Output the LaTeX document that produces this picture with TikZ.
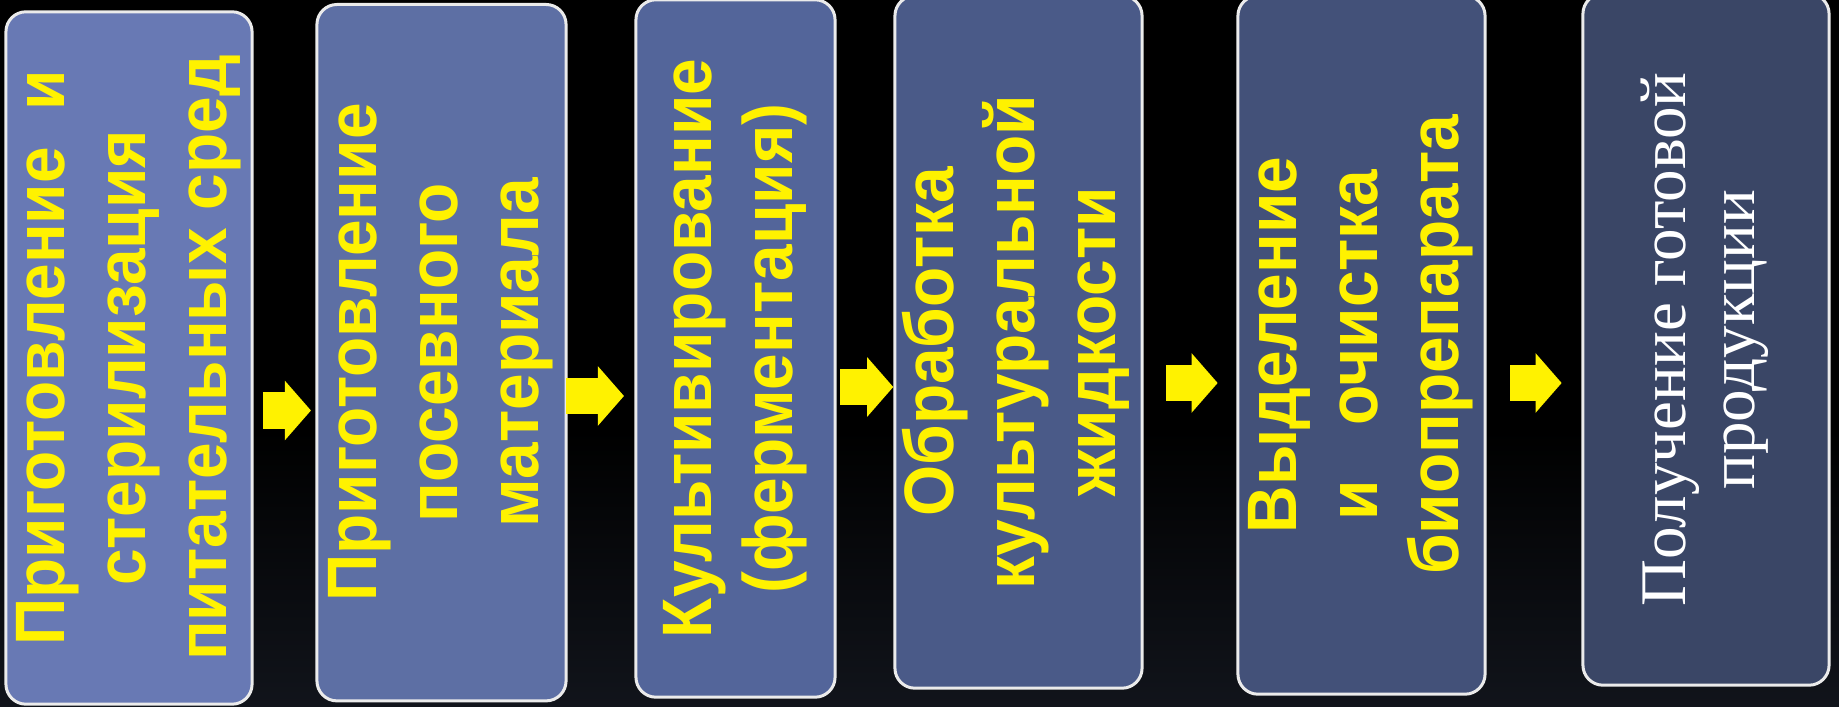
\documentclass[tikz,border=0pt]{standalone}
\usepackage{fontspec}
\usepackage{graphicx}
\setmainfont{Liberation Sans}[FakeStretch=0.94]
\newfontfamily\serifru{Liberation Serif}
\usetikzlibrary{arrows.meta}
\definecolor{stageA}{HTML}{6879B4}
\definecolor{stageB}{HTML}{5D6FA4}
\definecolor{stageC}{HTML}{53659A}
\definecolor{stageD}{HTML}{4A5A88}
\definecolor{stageE}{HTML}{435179}
\definecolor{stageF}{HTML}{3A4666}
\definecolor{bgbottom}{HTML}{11141B}
\newcommand{\vtext}[1]{\rotatebox{90}{\begin{tabular}{@{}c@{}}#1\end{tabular}}}
\tikzstyle{stage} = [rectangle, rounded corners=2mm, draw=white!92!black, line width=0.3mm, outer sep=0pt, inner sep=0pt, text=yellow, font=\bfseries\fontsize{19.9}{23}\selectfont]
\tikzstyle{arrow} = [yellow, line width=3.65mm, -{Triangle[length=2.6mm, width=5.95mm, line width=0pt]}]

\begin{document}
\begin{tikzpicture}[x=0.01cm, y=-0.01cm]
      \useasboundingbox (0,0) rectangle (1839,707);
      \fill[black] (0,0) rectangle (1839,707);
      \shade[top color=black, bottom color=bgbottom] (0,430) rectangle (1839,707);

      \node[stage, fill=stageA, minimum width=2.46cm, minimum height=6.92cm] (prep) at (129,358) {\vtext{Приготовление\ \ и\\стерилизация\\питательных сред}};
      \node[stage, fill=stageB, minimum width=2.49cm, minimum height=6.96cm] (seed) at (441.5,352.7) {\vtext{Приготовление\\посевного\\материала}};
      \node[stage, fill=stageC, minimum width=1.99cm, minimum height=6.97cm] (ferm) at (735.5,348.5) {\vtext{Культивирование\\(ферментация)}};
      \node[stage, fill=stageD, minimum width=2.47cm, minimum height=6.92cm] (treat) at (1018.5,342) {\vtext{Обработка\\культуральной\\жидкости}};
      \node[stage, fill=stageE, minimum width=2.47cm, minimum height=6.98cm] (purif) at (1361.5,345) {\vtext{Выделение\\и\ \ \ очистка\\биопрепарата}};
      \node[stage, fill=stageF, minimum width=2.46cm, minimum height=6.91cm, text=white, font=\serifru\fontsize{18.5}{19.6}\selectfont] (product) at (1706,339.5) {\vtext{Получение готовой\\продукции}};

      \draw[arrow, shorten <=1.07mm, shorten >=0.6mm] (prep.east |- 0,410.5) -- (seed.west |- 0,410.5);
      \draw[arrow, shorten >=1.2mm] (seed.east |- 0,396) -- (ferm.west |- 0,396);
      \draw[arrow, shorten <=0.5mm, shorten >=0.17mm] (ferm.east |- 0,387) -- (treat.west |- 0,387);
      \draw[arrow, shorten <=2.37mm, shorten >=2.03mm] (treat.east |- 0,383) -- (purif.west |- 0,383);
      \draw[arrow, shorten <=2.5mm, shorten >=2.13mm] (purif.east |- 0,383) -- (product.west |- 0,383);
\end{tikzpicture}
\end{document}
